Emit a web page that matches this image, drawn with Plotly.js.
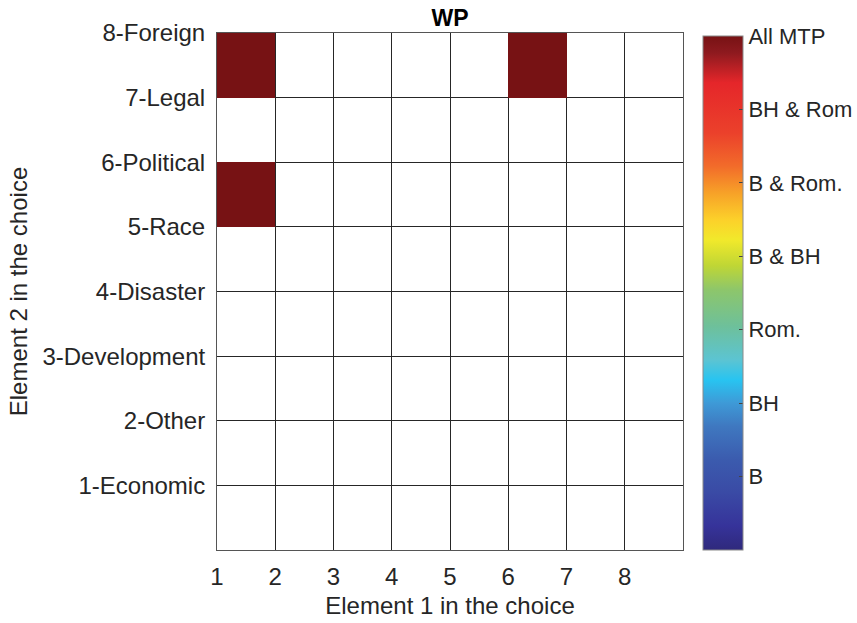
<!DOCTYPE html>
<html>
<head>
<meta charset="utf-8">
<script src="https://cdn.plot.ly/plotly-3.0.1.min.js"></script>
<style>html,body{margin:0;padding:0;background:#fff;}#chart{width:857px;height:623px;}</style>
</head>
<body>
<div id="chart"></div>
<script>
// Element 1 (columns) cell edges and tick labels
const xEdges = [1, 2, 3, 4, 5, 6, 7, 8, 9];
const xTickVals = [1, 2, 3, 4, 5, 6, 7, 8];
const xTickText = ['1', '2', '3', '4', '5', '6', '7', '8'];
// Element 2 (rows) cell edges and tick labels
const yEdges = [0, 1, 2, 3, 4, 5, 6, 7, 8];
const yTickVals = [1, 2, 3, 4, 5, 6, 7, 8];
const yTickText = ['1-Economic', '2-Other', '3-Development', '4-Disaster', '5-Race', '6-Political', '7-Legal', '8-Foreign'];
// Colour levels
const levelVals = [1, 2, 3, 4, 5, 6, 7];
const levelText = ['B', 'BH', 'Rom.', 'B & BH', 'B & Rom.', 'BH & Rom', 'All MTP'];
// Cell values, rows from bottom (y 0-1) to top (y 7-8); null = empty
const row1 = [null, null, null, null, null, null, null, null];
const row2 = [null, null, null, null, null, null, null, null];
const row3 = [null, null, null, null, null, null, null, null];
const row4 = [null, null, null, null, null, null, null, null];
const row5 = [null, null, null, null, null, null, null, null];
const row6 = [7, null, null, null, null, null, null, null];
const row7 = [null, null, null, null, null, null, null, null];
const row8 = [7, null, null, null, null, 7, null, null];
const zRows = [row1, row2, row3, row4, row5, row6, row7, row8];

const colorscale = [
  [0.000, '#2f297c'], [0.047, '#36339a'], [0.111, '#3a4aa5'], [0.175, '#3b5bae'],
  [0.241, '#3f78c0'], [0.286, '#3e9ad7'], [0.331, '#28c4f1'], [0.370, '#5cc4d2'],
  [0.436, '#6ec09a'], [0.506, '#8dc66b'], [0.553, '#bfd635'], [0.603, '#f1e92b'],
  [0.642, '#fcd12a'], [0.695, '#f7a128'], [0.747, '#f26b2a'], [0.811, '#eb412b'],
  [0.909, '#e5262a'], [0.967, '#8e1a1f'], [1.000, '#771214']
];

const font = {family: 'Liberation Sans, Arial, sans-serif', size: 24, color: '#262626'};

const trace = {
  type: 'heatmap',
  x: xEdges,
  y: yEdges,
  z: zRows,
  zmin: 0,
  zmax: 7,
  colorscale: colorscale,
  hoverinfo: 'skip',
  xgap: 0, ygap: 0,
  colorbar: {
    x: 1.043, xanchor: 'left', xref: 'paper',
    y: 0.497, yanchor: 'middle', len: 0.995, lenmode: 'fraction',
    thickness: 40, thicknessmode: 'pixels',
    outlinewidth: 1, outlinecolor: '#8a8a8a',
    tickmode: 'array', tickvals: levelVals, ticktext: levelText,
    ticks: 'inside', ticklen: 4, tickcolor: '#444', tickwidth: 1,
    tickfont: {family: 'Liberation Sans, Arial, sans-serif', size: 22, color: '#262626'},
    ticklabelstandoff: 7,
    xpad: 0, ypad: 0
  }
};

const layout = {
  width: 857, height: 623,
  margin: {l: 217, r: 174, t: 33, b: 73, autoexpand: false},
  paper_bgcolor: '#fff', plot_bgcolor: '#fff',
  font: font,
  title: {text: '<b>WP</b>', font: {family: 'Liberation Sans, Arial, sans-serif', size: 23, color: '#000'},
          x: 0.5, xref: 'paper', xanchor: 'center', y: 0.971, yref: 'container', yanchor: 'middle'},
  xaxis: {
    range: [1, 9], tickmode: 'array', tickvals: xTickVals, ticktext: xTickText,
    showgrid: true, gridcolor: '#262626', gridwidth: 1,
    showline: true, linecolor: '#555', linewidth: 1, mirror: true,
    zeroline: false, ticks: '', ticklabelstandoff: 5,
    tickfont: font,
    title: {text: 'Element 1 in the choice', font: font, standoff: 8}
  },
  yaxis: {
    range: [0, 8], tickmode: 'array', tickvals: yTickVals, ticktext: yTickText,
    showgrid: true, gridcolor: '#262626', gridwidth: 1,
    showline: true, linecolor: '#555', linewidth: 1, mirror: true,
    zeroline: false, ticks: '', ticklabelstandoff: 6,
    tickfont: font,
    title: {text: 'Element 2 in the choice', font: font, standoff: 8}
  }
};

Plotly.newPlot('chart', [trace], layout, {displayModeBar: false, staticPlot: true});
</script>
</body>
</html>
